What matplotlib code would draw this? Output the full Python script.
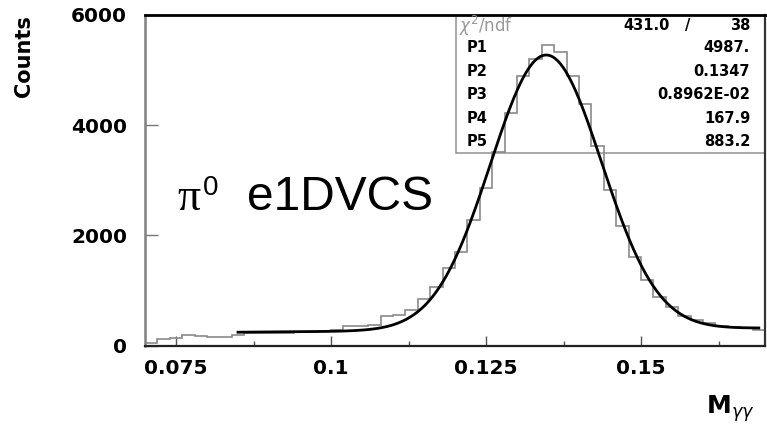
import numpy as np
import matplotlib
matplotlib.use("Agg")
import matplotlib.pyplot as plt
from matplotlib.patches import Rectangle
from matplotlib.ticker import MultipleLocator, FixedLocator
from matplotlib.font_manager import FontProperties

# two-photon invariant mass histogram, 0.002 wide bins from 0.07 to 0.17
bin_low = 0.07
bin_width = 0.002
counts = [40, 120, 130, 190, 170, 160, 160, 200, 220, 230,
          220, 225, 245, 250, 260, 290, 350, 350, 380, 530,
          560, 640, 850, 1060, 1400, 1700, 2280, 2860, 3507, 4224,
          4890, 5206, 5447, 5325, 4890, 4393, 3616, 2829, 2162, 1616,
          1193, 889, 707, 545, 465, 405, 350, 330, 320, 285]

# gaussian + linear background fit results
fit_names = ["P1", "P2", "P3", "P4", "P5"]
fit_values = [4987., 0.1347, 0.8962e-02, 167.9, 883.2]
fit_labels = ["4987.", "0.1347", "0.8962E-02", "167.9", "883.2"]
chi2 = "431.0"
ndf = "38"
fit_range = (0.085, 0.169)

x_ticks = [0.075, 0.1, 0.125, 0.15]
x_ticklabels = ["0.075", "0.1", "0.125", "0.15"]
y_ticks = [0, 2000, 4000, 6000]


def fit_func(x, p1, p2, p3, p4, p5):
    return p1 * np.exp(-0.5 * ((x - p2) / p3) ** 2) + p4 + p5 * x


W, H = 767, 426
fig = plt.figure(figsize=(W / 100, H / 100), dpi=100)
ax = fig.add_axes([145 / W, 1 - 345.6 / H, 620 / W, 330.6 / H])

edges = bin_low + bin_width * np.arange(len(counts) + 1)
ax.stairs(counts, edges, baseline=None, color="#8a8a8a", lw=1.2, zorder=2)

xf = np.linspace(fit_range[0], fit_range[1], 400)
ax.plot(xf, fit_func(xf, *fit_values), color="black", lw=2, zorder=3)

ax.set_xlim(0.07, 0.17)
ax.set_ylim(0, 6000)

ax.xaxis.set_major_locator(FixedLocator(x_ticks))
ax.set_xticklabels(x_ticklabels)
ax.xaxis.set_minor_locator(MultipleLocator(0.0125))
ax.set_yticks(y_ticks)
ax.set_yticklabels([str(v) for v in y_ticks])

tick_font = FontProperties(family="DejaVu Sans", weight="bold", size=14.5)
for lab in ax.get_xticklabels() + ax.get_yticklabels():
    lab.set_fontproperties(tick_font)

ax.tick_params(axis="x", which="major", direction="in", length=7.2, width=1,
               color="#555555", pad=10)
ax.tick_params(axis="x", which="minor", direction="in", length=3.6, width=1,
               color="#555555")
ax.tick_params(axis="y", which="major", direction="in", length=9.4, width=1,
               color="#777777", pad=13)

ax.spines["left"].set_color("#808080")
ax.spines["left"].set_linewidth(1.8)
ax.spines["top"].set_color("black")
ax.spines["top"].set_linewidth(2)
ax.spines["bottom"].set_color("#222222")
ax.spines["bottom"].set_linewidth(1.6)
ax.spines["right"].set_color("#333333")
ax.spines["right"].set_linewidth(1.6)

# statistics box
bx0, by0 = 0.5016, 0.5835
ax.add_patch(Rectangle((bx0, by0), 1 - bx0, 1 - by0, transform=ax.transAxes,
                       fill=False, edgecolor="#9a9a9a", lw=1.2, zorder=1))

row_y = [0.968, 0.902, 0.830, 0.759, 0.688, 0.617]
lab_x = 0.518
val_x = 0.976
stat_font = dict(family="DejaVu Sans", weight="bold", size=10.5, va="center")

ax.text(0.507, row_y[0], r"$\chi^2$/ndf", transform=ax.transAxes,
        color="#9a9a9a", fontsize=12, va="center", family="DejaVu Sans")
ax.text(0.847, row_y[0], chi2, transform=ax.transAxes, ha="right", **stat_font)
ax.text(0.876, row_y[0], "/", transform=ax.transAxes, ha="center", **stat_font)
ax.text(val_x, row_y[0], ndf, transform=ax.transAxes, ha="right", **stat_font)
for name, label, y in zip(fit_names, fit_labels, row_y[1:]):
    ax.text(lab_x, y, name, transform=ax.transAxes, ha="left", **stat_font)
    ax.text(val_x, y, label, transform=ax.transAxes, ha="right", **stat_font)

# axis titles
fig.text(24 / W, 1 - 15 / H, "Counts", rotation=90, ha="center", va="top",
         family="DejaVu Sans", weight="bold", fontsize=15)
fig.text(706 / W, 1 - 414 / H, r"$\mathbf{M}_{\gamma\gamma}$", ha="left",
         va="baseline", fontsize=18)

# reaction label
fig.text(177 / W, 1 - 210 / H, "π", family="Liberation Serif", fontsize=33,
         va="baseline", ha="left")
fig.text(203 / W, 1 - 195 / H, "0", family="Liberation Sans", fontsize=20,
         va="baseline", ha="left")
fig.text(247 / W, 1 - 210 / H, "e1DVCS", family="Liberation Sans", fontsize=34.5,
         va="baseline", ha="left")

fig.savefig("out.png", dpi=100)
